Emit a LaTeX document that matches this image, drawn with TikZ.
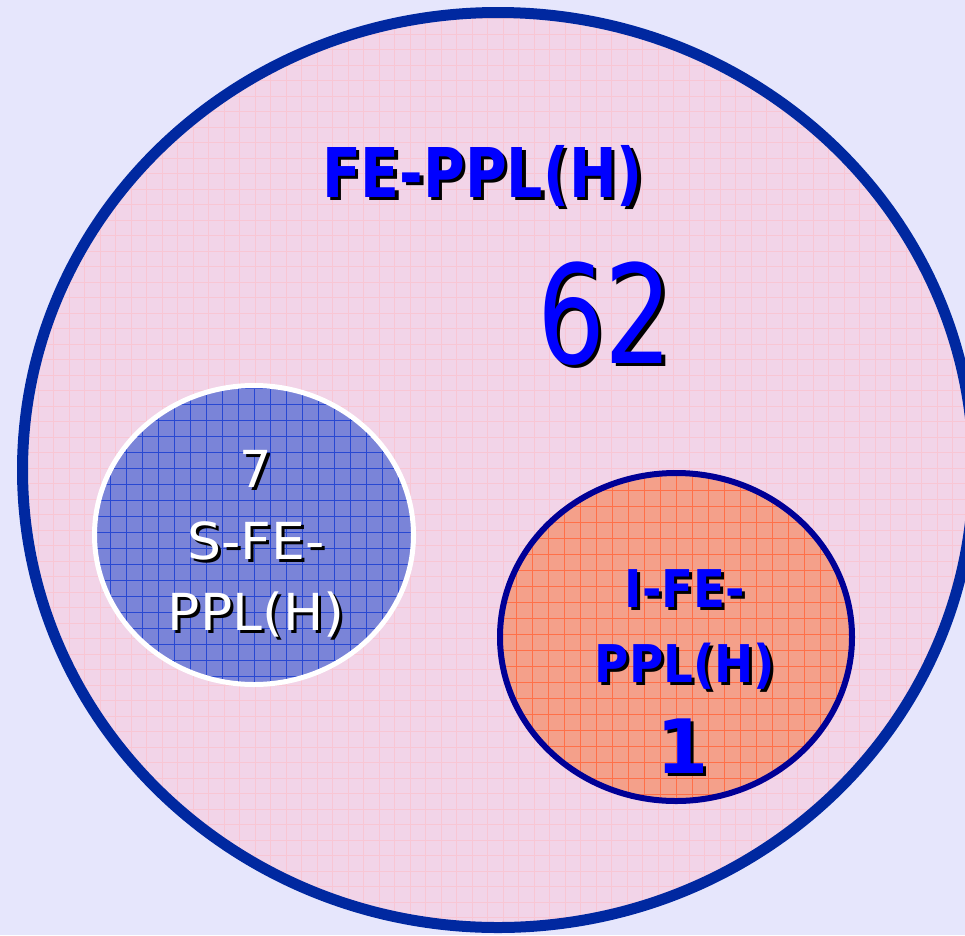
\documentclass[tikz,border=0pt]{standalone}
\usepackage{fontspec}
\setmainfont{DejaVu Sans}
\definecolor{bg}{RGB}{230,230,252}
\definecolor{bigfill}{RGB}{242,212,232}
\definecolor{biggrid}{RGB}{248,198,212}
\definecolor{bigborder}{RGB}{0,40,160}
\definecolor{sfill}{RGB}{122,132,216}
\definecolor{sgrid}{RGB}{40,72,210}
\definecolor{ifill}{RGB}{244,160,138}
\definecolor{igrid}{RGB}{255,112,72}
\definecolor{iborder}{RGB}{0,0,150}
\definecolor{tblue}{RGB}{0,0,255}
\tikzset{
  lbl/.style={inner sep=0pt, anchor=base},
  shadowlbl/.style={lbl, text=black},
  titlefont/.style={font=\fontsize{68.6}{68.6}\selectfont\bfseries},
  bignum/.style={font=\fontsize{137}{137}\selectfont},
  sfont/.style={font=\fontsize{51}{51}\selectfont},
  ifont/.style={font=\fontsize{52}{52}\selectfont\bfseries},
  onefont/.style={font=\fontsize{75}{75}\selectfont\bfseries}
}
\begin{document}
\begin{tikzpicture}[x=1pt,y=-1pt]
\useasboundingbox (0,0) rectangle (965,935);
\clip (0,0) rectangle (965,935);
\fill[bg] (0,0) rectangle (965,935);
% big ellipse
\begin{scope}
  \clip (498,470) ellipse [x radius=475.5, y radius=457.5];
  \fill[bigfill] (0,0) rectangle (965,935);
  \foreach \g in {7,22.5,...,965} \draw[biggrid, line width=0.8pt] (\g,0) -- (\g,935);
  \foreach \g in {3,18.5,...,935} \draw[biggrid, line width=0.8pt] (0,\g) -- (965,\g);
\end{scope}
\draw[bigborder, line width=11pt] (498,470) ellipse [x radius=475.5, y radius=457.5];
% small blue ellipse
\begin{scope}
  \clip (254,535) ellipse [x radius=160, y radius=150];
  \fill[sfill] (90,380) rectangle (420,690);
  \foreach \g in {94,110,...,420} \draw[sgrid, line width=0.8pt] (\g,380) -- (\g,690);
  \foreach \g in {388,404,...,690} \draw[sgrid, line width=0.8pt] (90,\g) -- (420,\g);
\end{scope}
\draw[white, line width=5pt] (254,535) ellipse [x radius=159.5, y radius=149.5];
% red ellipse
\begin{scope}
  \clip (676,637) ellipse [x radius=176, y radius=164];
  \fill[ifill] (495,468) rectangle (858,806);
  \foreach \g in {500,516,...,858} \draw[igrid, line width=0.8pt] (\g,468) -- (\g,806);
  \foreach \g in {474,490,...,806} \draw[igrid, line width=0.8pt] (495,\g) -- (858,\g);
\end{scope}
\draw[iborder, line width=6pt] (676,637) ellipse [x radius=176, y radius=164];
% title
\node[shadowlbl, titlefont] (titleS) at (486,200.5) {\scalebox{0.83}[1]{FE-PPL(H)}};
\node[lbl, titlefont, text=tblue] (title) at (482.5,197) {\scalebox{0.83}[1]{FE-PPL(H)}};
\node[shadowlbl, bignum] (numS) at (608.5,366.5) {\scalebox{0.78}[1]{62}};
\node[lbl, bignum, text=tblue] (num) at (605,363) {\scalebox{0.78}[1]{62}};
% S-FE-PPL(H)
\node[shadowlbl, sfont] (s1S) at (259,490) {7};
\node[lbl, sfont, text=white] (s1) at (256,487) {7};
\node[shadowlbl, sfont] (s2S) at (259,562) {\scalebox{1.05}[1]{S-FE-}};
\node[lbl, sfont, text=white] (s2) at (256,559) {\scalebox{1.05}[1]{S-FE-}};
\node[shadowlbl, sfont] (s3S) at (259,633) {\scalebox{1.05}[1]{PPL(H)}};
\node[lbl, sfont, text=white] (s3) at (256,630) {\scalebox{1.05}[1]{PPL(H)}};
% I-FE-PPL(H)
\node[shadowlbl, ifont] (i1S) at (688,610) {\scalebox{0.9}[1]{I-FE-}};
\node[lbl, ifont, text=tblue] (i1) at (685,607) {\scalebox{0.9}[1]{I-FE-}};
\node[shadowlbl, ifont] (i2S) at (688,685) {\scalebox{0.9}[1]{PPL(H)}};
\node[lbl, ifont, text=tblue] (i2) at (685,682) {\scalebox{0.9}[1]{PPL(H)}};
\node[shadowlbl, onefont] (i3S) at (686,776) {1};
\node[lbl, onefont, text=tblue] (i3) at (683,773) {1};
\end{tikzpicture}
\end{document}
